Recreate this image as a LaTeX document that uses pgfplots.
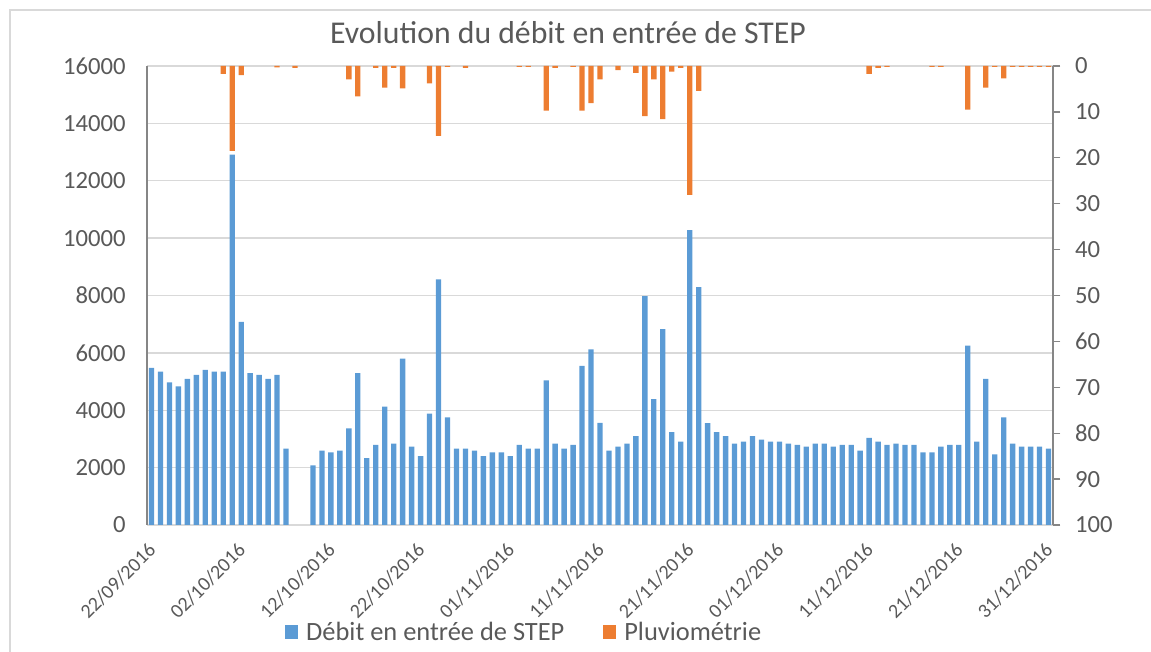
\documentclass[border=0pt]{standalone}
\usepackage{fontspec}
\setmainfont{Carlito}
\usepackage{pgfplots}
\pgfplotsset{compat=1.18}
\definecolor{barblue}{HTML}{5B9BD5}
\definecolor{barorange}{HTML}{ED7D31}
\definecolor{txt}{HTML}{595959}
\definecolor{gridc}{HTML}{D9D9D9}
\definecolor{axisc}{HTML}{868686}

\begin{document}
\begin{tikzpicture}
\useasboundingbox (0,0) rectangle (863.25pt,489pt);
% cadre du graphique
\draw[gridc, line width=1.2pt] (7.5pt,0) -- (7.5pt,481.5pt) -- (863.25pt,481.5pt);
\node[txt, anchor=base, font=\fontsize{23.8}{28}\selectfont] at (426pt,456pt) {Evolution du débit en entrée de STEP};

% debit (axe gauche)
\begin{axis}[
  at={(110.25pt,95.25pt)}, anchor=south west,
  scale only axis, width=679.5pt, height=344.25pt,
  xmin=-0.5, xmax=100.5, ymin=0, ymax=16000,
  ybar, bar width=4pt, bar shift=0pt,
  axis x line*=bottom, axis y line*=left,
  x axis line style={gridc, line width=1.2pt, -},
  y axis line style={axisc, line width=1pt, -},
  ymajorgrids, grid style={gridc, line width=1.1pt},
  major tick length=0pt,
  ytick={0,2000,...,16000},
  xtick={0,10,...,100},
  xticklabels={22/09/2016,02/10/2016,12/10/2016,22/10/2016,01/11/2016,11/11/2016,21/11/2016,01/12/2016,11/12/2016,21/12/2016,31/12/2016},
  xticklabel style={txt, font=\fontsize{15}{18}\selectfont, xshift=3pt, yshift=-14pt, rotate=45, anchor=east},
  yticklabel style={txt, font=\fontsize{18.5}{21}\selectfont, xshift=-12.5pt},
  scaled y ticks=false,
  /pgf/number format/.cd, 1000 sep={}, assume math mode=true,
]
\addplot[fill=barblue, draw=none] coordinates {
(0,5480) (1,5350) (2,4970) (3,4830) (4,5090) (5,5230) (6,5410) (7,5350) (8,5350) (9,12910)
(10,7080) (11,5290) (12,5230) (13,5090) (14,5230) (15,2660) (18,2080) (19,2590)
(20,2530) (21,2590) (22,3370) (23,5290) (24,2330) (25,2790) (26,4130) (27,2840) (28,5800) (29,2730)
(30,2400) (31,3880) (32,8560) (33,3750) (34,2660) (35,2660) (36,2590) (37,2400) (38,2530) (39,2530)
(40,2400) (41,2790) (42,2660) (43,2660) (44,5040) (45,2840) (46,2660) (47,2790) (48,5550) (49,6120)
(50,3560) (51,2590) (52,2730) (53,2840) (54,3100) (55,7980) (56,4390) (57,6830) (58,3240) (59,2910)
(60,10280) (61,8290) (62,3550) (63,3240) (64,3100) (65,2840) (66,2910) (67,3100) (68,2980) (69,2910)
(70,2910) (71,2840) (72,2790) (73,2730) (74,2840) (75,2840) (76,2730) (77,2790) (78,2790) (79,2590)
(80,3040) (81,2910) (82,2790) (83,2840) (84,2790) (85,2790) (86,2530) (87,2530) (88,2730) (89,2790)
(90,2790) (91,6250) (92,2910) (93,5090) (94,2460) (95,3750) (96,2840) (97,2730) (98,2730) (99,2730)
(100,2660)
};
\end{axis}

% pluviometrie (axe droit, inverse)
\begin{axis}[
  at={(110.25pt,95.25pt)}, anchor=south west,
  scale only axis, width=679.5pt, height=344.25pt,
  xmin=-0.5, xmax=100.5, ymin=0, ymax=100,
  y dir=reverse,
  ybar, bar width=4pt, bar shift=0pt,
  axis x line=none, axis y line*=right,
  y axis line style={axisc, line width=1pt, -},
  ytick={0,10,...,100},
  major tick length=5.5pt,
  ytick style={axisc, line width=1pt},
  tick align=outside,
  yticklabel style={txt, font=\fontsize{18.5}{21}\selectfont, anchor=west, xshift=7.5pt},
  /pgf/number format/assume math mode=true,
  legend columns=2,
  legend style={at={(0.4165,-0.233)}, anchor=center, draw=none, fill=none,
    font=\fontsize{19.8}{23}\selectfont, text=txt,
    /tikz/every odd column/.append style={column sep=4pt},
    /tikz/every even column/.append style={column sep=27pt}},
  legend image code/.code={\fill (0pt,-5pt) rectangle (10pt,5pt);},
]
\addlegendimage{fill=barblue, draw=none}
\addlegendentry{Débit en entrée de STEP}
\addplot[fill=barorange, draw=none] coordinates {
(8,1.7) (9,18.5) (10,2.0) (14,0.3) (16,0.4) (22,2.9) (23,6.6) (25,0.4) (26,4.7) (27,0.4)
(28,4.9) (31,3.8) (32,15.2) (33,0.2) (35,0.4) (41,0.2) (42,0.2) (44,9.7) (45,0.4) (47,0.2)
(48,9.7) (49,8.1) (50,2.9) (52,0.9) (54,1.5) (55,10.9) (56,2.9) (57,11.6) (58,1.2) (59,0.4)
(60,28.1) (61,5.4) (80,1.7) (81,0.4) (82,0.2) (87,0.2) (88,0.2) (91,9.5) (93,4.7) (94,0.2)
(95,2.7) (96,0.2) (97,0.2) (98,0.2) (99,0.2) (100,0.2)
};
\addlegendentry{Pluviométrie}
\end{axis}
\end{tikzpicture}
\end{document}
